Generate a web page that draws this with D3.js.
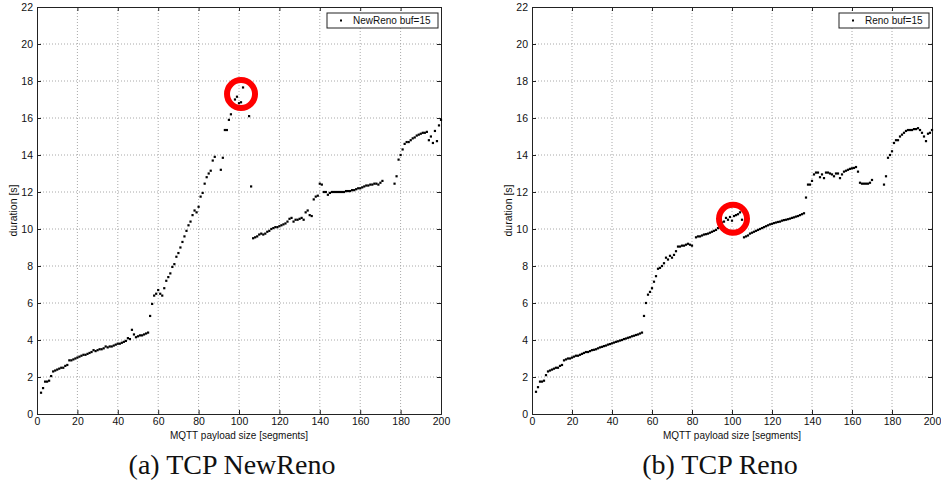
<!DOCTYPE html>
<html><head><meta charset="utf-8">
<script src="https://cdn.jsdelivr.net/npm/d3@7"></script>
<style>body{margin:0;background:#fff}svg{display:block}</style>
</head><body>
<svg id="c" width="941" height="494"></svg>
<script>
// ---------- data ----------
const xTicks = [0,20,40,60,80,100,120,140,160,180,200];
const yTicks = [0,2,4,6,8,10,12,14,16,18,20,22];

const newrenoX = [2,3,4,5,6,7,8,9,10,11,12,13,14,15,16,17,18,19,20,21,22,23,24,25,26,27,28,29,30,31,32,33,34,35,36,37,38,39,40,41,42,43,44,45,46,47,48,49,50,51,52,53,54,55,56,57,58,59,60,61,62,63,64,65,66,67,68,69,70,71,72,73,74,75,76,77,78,79,80,81,82,83,84,85,86,87,88,91,92,93,94,95,96,98,99,100,101,102,105,106,107,108,109,110,111,112,113,114,115,116,117,118,119,120,121,122,123,124,125,126,127,128,129,130,131,132,133,134,135,136,137,138,139,140,141,142,143,144,145,146,147,148,149,150,151,152,153,154,155,156,157,158,159,160,161,162,163,164,165,166,167,168,169,170,171,177,178,179,180,181,182,183,184,185,186,187,188,189,190,191,192,193,194,195,196,197,198,199,200];
const newrenoY = [1.15,1.4,1.75,1.75,1.8,2.05,2.3,2.35,2.4,2.45,2.5,2.5,2.6,2.65,2.9,2.9,2.95,3.0,3.05,3.1,3.15,3.2,3.2,3.25,3.3,3.35,3.45,3.4,3.45,3.5,3.5,3.55,3.65,3.6,3.65,3.65,3.7,3.75,3.8,3.8,3.85,3.9,3.95,4.1,4.05,4.55,4.3,4.15,4.2,4.25,4.25,4.3,4.35,4.4,5.3,5.95,6.4,6.5,6.7,6.5,6.4,6.8,7.2,7.4,7.6,7.95,8.1,8.5,8.7,9.0,9.3,9.6,9.9,10.2,10.4,10.75,11.0,10.9,11.2,11.75,11.95,12.45,12.8,13.0,13.15,13.7,13.9,13.2,13.85,15.35,15.35,15.9,16.2,17.0,17.15,16.8,16.85,17.65,16.1,12.3,9.5,9.55,9.6,9.7,9.75,9.7,9.75,9.85,9.9,10.0,10.05,10.1,10.1,10.15,10.2,10.25,10.3,10.4,10.55,10.6,10.4,10.5,10.5,10.55,10.6,10.5,10.9,11.0,10.75,10.7,11.6,11.75,11.8,12.45,12.4,12.0,12.0,11.85,11.95,12.0,12.0,12.0,12.0,12.0,12.0,12.0,12.05,12.05,12.05,12.1,12.1,12.15,12.2,12.2,12.25,12.3,12.35,12.35,12.4,12.4,12.45,12.45,12.4,12.5,12.6,12.45,12.85,13.75,14.0,14.3,14.6,14.7,14.7,14.8,14.9,14.95,15.05,15.1,15.15,15.2,15.2,15.25,14.8,15.0,14.65,15.3,14.75,15.6,15.9];

const renoX = [2,3,4,5,6,7,8,9,10,11,12,13,14,15,16,17,18,19,20,21,22,23,24,25,26,27,28,29,30,31,32,33,34,35,36,37,38,39,40,41,42,43,44,45,46,47,48,49,50,51,52,53,54,55,56,57,58,59,60,61,62,63,64,65,66,67,68,69,70,71,72,73,74,75,76,77,78,79,80,82,83,84,85,86,87,88,89,90,91,92,93,94,95,96,97,98,99,100,101,102,103,104,105,106,107,108,109,110,111,112,113,114,115,116,117,118,119,120,121,122,123,124,125,126,127,128,129,130,131,132,133,134,135,136,137,138,139,140,141,142,143,144,145,146,147,148,149,150,151,152,153,154,155,156,157,158,159,160,161,162,163,164,165,166,167,168,169,170,176,177,178,179,180,181,182,183,184,185,186,187,188,189,190,191,192,193,194,195,196,197,198,199,200];
const renoY = [1.2,1.45,1.75,1.75,1.8,2.1,2.3,2.35,2.4,2.45,2.5,2.5,2.6,2.65,2.9,2.95,3.0,3.0,3.05,3.1,3.15,3.15,3.2,3.25,3.3,3.35,3.35,3.4,3.45,3.47,3.5,3.55,3.6,3.63,3.67,3.7,3.75,3.78,3.82,3.86,3.9,3.93,3.97,4.0,4.05,4.08,4.12,4.15,4.2,4.23,4.27,4.3,4.35,4.4,5.3,6.0,6.45,6.6,6.8,7.15,7.45,7.85,7.9,8.0,8.15,8.45,8.35,8.55,8.45,8.6,8.8,9.05,9.05,9.1,9.1,9.15,9.2,9.15,9.1,9.55,9.6,9.6,9.65,9.7,9.72,9.75,9.8,9.85,9.9,9.95,10.05,10.3,10.35,10.4,10.6,10.5,10.65,10.45,10.7,10.75,10.8,10.9,10.5,9.55,9.6,9.65,9.75,9.8,9.85,9.9,9.95,10.0,10.05,10.1,10.15,10.2,10.25,10.28,10.32,10.35,10.38,10.4,10.45,10.48,10.5,10.53,10.56,10.6,10.63,10.67,10.7,10.75,10.8,10.85,11.7,12.4,12.4,12.6,12.95,13.05,13.05,12.8,12.95,12.75,13.05,13.05,13.0,12.95,12.85,13.0,13.0,12.75,12.95,13.1,13.15,13.2,13.25,13.28,13.3,13.35,13.1,12.5,12.45,12.45,12.45,12.45,12.5,12.65,12.4,12.85,13.85,14.0,14.2,14.65,14.8,14.8,15.0,15.1,15.2,15.3,15.35,15.35,15.35,15.4,15.4,15.45,15.35,15.2,15.0,14.75,15.15,15.2,15.35];

const legendLabels = ["NewReno buf=15", "Reno buf=15"];
const captions = ["(a) TCP NewReno", "(b) TCP Reno"];
const highlightX = [101, 100.5];
const highlightY = [17.3, 10.55];
const xLabel = "MQTT payload size [segments]";
const yLabel = "duration [s]";

// ---------- drawing ----------
const svg = d3.select("#c");
const panels = [
  {x0:37, x1:441, xs:newrenoX, ys:newrenoY, legW:111, cap:232},
  {x0:532, x1:932, xs:renoX, ys:renoY, legW:90, cap:720}
];
const plotTop = 7, plotBottom = 414;
const sans = "'Liberation Sans', Arial, sans-serif";

panels.forEach((p, i) => {
  const x = d3.scaleLinear().domain([0,200]).range([p.x0, p.x1]);
  const y = d3.scaleLinear().domain([0,22]).range([plotBottom, plotTop]);
  const g = svg.append("g");

  // grid
  g.append("g").selectAll("line").data(xTicks.slice(1,-1)).join("line")
    .attr("x1", d=>x(d)).attr("x2", d=>x(d)).attr("y1", plotTop).attr("y2", plotBottom)
    .attr("stroke","#a8a8a8").attr("stroke-width",1).attr("stroke-dasharray","1,2");
  g.append("g").selectAll("line").data(yTicks.slice(1,-1)).join("line")
    .attr("y1", d=>y(d)).attr("y2", d=>y(d)).attr("x1", p.x0).attr("x2", p.x1)
    .attr("stroke","#a8a8a8").attr("stroke-width",1).attr("stroke-dasharray","1,2");

  // axes
  const ax = g.append("g").attr("transform",`translate(0,${plotBottom})`)
    .call(d3.axisBottom(x).tickValues(xTicks).tickSize(-4).tickPadding(4));
  const ay = g.append("g").attr("transform",`translate(${p.x0},0)`)
    .call(d3.axisLeft(y).tickValues(yTicks).tickSize(-4).tickPadding(4));
  const axT = g.append("g").attr("transform",`translate(0,${plotTop})`)
    .call(d3.axisTop(x).tickValues(xTicks).tickSize(-4).tickFormat(""));
  const ayR = g.append("g").attr("transform",`translate(${p.x1},0)`)
    .call(d3.axisRight(y).tickValues(yTicks).tickSize(-4).tickFormat(""));
  [ax, ay, axT, ayR].forEach(a => {
    a.selectAll("path").attr("stroke","#222");
    a.selectAll("line").attr("stroke","#222");
    a.selectAll("text").attr("font-family",sans)
      .attr("font-size","10.5px").attr("fill","#111");
  });

  // labels
  svg.append("text").attr("x",(p.x0+p.x1)/2).attr("y",439).attr("text-anchor","middle")
    .attr("font-family",sans).attr("font-size","10px")
    .attr("fill","#111").text(xLabel);
  svg.append("text").attr("transform",`translate(${p.x0-20},${(plotTop+plotBottom)/2}) rotate(-90)`)
    .attr("text-anchor","middle")
    .attr("font-family",sans).attr("font-size","10.5px")
    .attr("fill","#111").text(yLabel);

  // points
  const pts = p.xs.map((d,k)=>[d, p.ys[k]]);
  g.append("g").selectAll("rect").data(pts).join("rect")
    .attr("x", d=>x(d[0])-1.1).attr("y", d=>y(d[1])-1.1)
    .attr("width",2.2).attr("height",2.2).attr("fill","#000");

  // highlight circle
  g.append("circle").attr("cx", x(highlightX[i])).attr("cy", y(highlightY[i]))
    .attr("r",14).attr("fill","none").attr("stroke","#f00").attr("stroke-width",6);

  // legend
  const lx1 = p.x1 - 3, lx0 = lx1 - p.legW, ly0 = 13, ly1 = 28;
  g.append("rect").attr("x",lx0).attr("y",ly0).attr("width",p.legW).attr("height",ly1-ly0)
    .attr("fill","#fff").attr("stroke","#222").attr("stroke-width",1);
  g.append("rect").attr("x",lx0+13).attr("y",(ly0+ly1)/2-1).attr("width",2).attr("height",2).attr("fill","#000");
  g.append("text").attr("x",lx0+26).attr("y",(ly0+ly1)/2+3.5)
    .attr("font-family",sans).attr("font-size","10px")
    .attr("fill","#111").text(legendLabels[i]);

  // caption
  svg.append("text").attr("x",p.cap).attr("y",474).attr("text-anchor","middle")
    .attr("font-family","'Liberation Serif', 'DejaVu Serif', serif").attr("font-size","28px")
    .attr("fill","#111").text(captions[i]);
});
</script>
</body></html>
